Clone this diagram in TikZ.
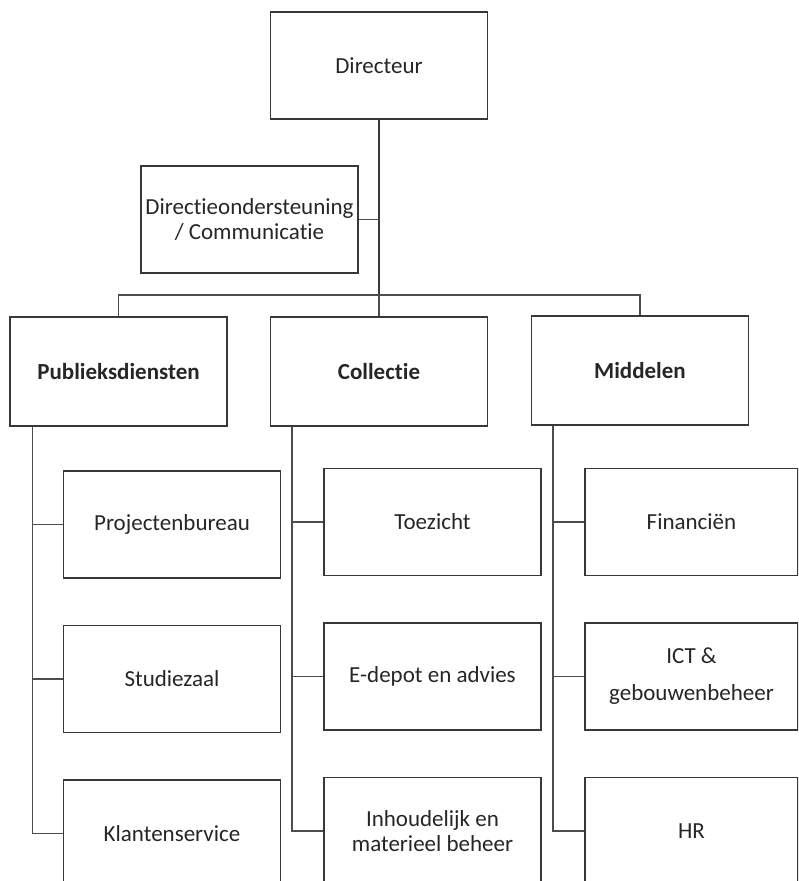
\documentclass[tikz,border=0pt]{standalone}
\usepackage{fontspec}
\setmainfont{Carlito}[Ligatures=NoCommon]
\usepackage{tikz}
\usetikzlibrary{positioning,backgrounds}
\definecolor{randgrijs}{rgb}{0.22,0.22,0.22}
\definecolor{lijngrijs}{rgb}{0.30,0.30,0.30}

\begin{document}
\begin{tikzpicture}[x=1pt,y=-1pt]
        \tikzset{
          node distance=46pt and 0pt,
          blok/.style={
            draw=randgrijs,line width=1.4pt,align=center,
            minimum width=217pt,minimum height=107pt,inner sep=2pt,
            font=\fontsize{23}{25}\selectfont,text=black!85,
          },
          blok vet/.style={blok,minimum height=109pt,font=\fontsize{23}{25}\selectfont\bfseries},
          lijn/.style={draw=lijngrijs,line width=1.5pt},
          hoofdlijn/.style={lijn,line width=2.4pt,draw=randgrijs},
          }
        \useasboundingbox (0,0) rectangle (798,881);
        \clip (0,0) rectangle (798,881);
        \node[blok] (a) at (379,65.5) {Directeur};
        \node[blok] (b) at (249.5,219.5) {Directieondersteuning\\/ Communicatie};
        \node[blok vet] (c) at (118.5,371.5) {Publieksdiensten};
        \node[blok vet] (d) at (379,371.5) {Collectie};
        \node[blok vet] (e) at (640,370.5) {Middelen};
        \node[blok] (f) at (172,524.5) {Projectenbureau};
        \node[blok, below=of f] (g) {Studiezaal};
        \node[blok, below=of g] (h) {Klantenservice};
        \node[blok] (i) at (432.5,522) {Toezicht};
        \node[blok, below=of i] (j) {E-depot en advies};
        \node[blok, below=of j] (k) {Inhoudelijk en\\materieel beheer};
        \node[blok, minimum width=213pt] (l) at (691.5,522) {Financiën};
        \node[blok, minimum width=213pt, below=of l] (m) {ICT \&\\[12pt]gebouwenbeheer};
        \node[blok, minimum width=213pt, below=of m] (n) {HR};
        \coordinate (balk) at (379,295);

        \begin{scope}[on background layer]
            \draw[hoofdlijn] (a.south) -- (balk);
            \draw[lijn] (balk) -- (d.north);
            \draw[lijn] (b.east) -- (b.east -| a.south);
            \draw[lijn] (c.north) -- (c.north |- balk) -- (e.north |- balk) -- (e.north);
            % verticale stammen onder de afdelingen
            \coordinate (cs) at ([xshift=23pt]c.south west);
            \coordinate (ds) at ([xshift=22pt]d.south west);
            \coordinate (es) at ([xshift=22pt]e.south west);
            \draw[lijn] (cs) |- (f.west);
            \draw[lijn] (cs) |- (g.west);
            \draw[lijn] (cs) |- (h.west);
            \draw[lijn] (ds) |- (i.west);
            \draw[lijn] (ds) |- (j.west);
            \draw[lijn] (ds) |- (k.west);
            \draw[lijn] (es) |- (l.west);
            \draw[lijn] (es) |- (m.west);
            \draw[lijn] (es) |- (n.west);
        \end{scope}
      \end{tikzpicture}
\end{document}
